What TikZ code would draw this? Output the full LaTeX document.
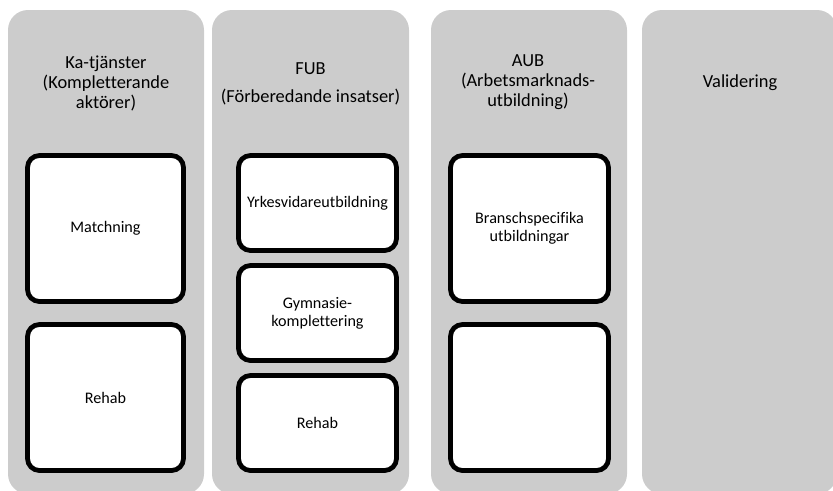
\documentclass[tikz,border=0pt]{standalone}
\usepackage{fontspec}
\setmainfont[Ligatures=NoCommon]{Carlito}
\definecolor{colgray}{HTML}{CCCCCC}
\tikzset{
  colbg/.style={fill=colgray, draw=none, rounded corners=15pt},
  innerbox/.style={fill=white, draw=black, line width=3.6pt, rounded corners=9pt},
  title/.style={align=center, font=\fontsize{13.8}{15}\selectfont, inner sep=0pt},
  label/.style={align=center, font=\fontsize{12.1}{13.5}\selectfont, inner sep=0pt}
}
\begin{document}
\begin{tikzpicture}[x=0.75pt, y=-0.75pt]
\useasboundingbox (0,0) rectangle (833,490);
\clip (0,0) rectangle (833,490);
% columns
\path[colbg] (8,10) rectangle (204,494);
\path[colbg] (212,10) rectangle (409,494);
\path[colbg] (431,10) rectangle (627,494);
\path[colbg] (642,10) rectangle (837,494);
% titles
\node[title] (t1) at (106,83) {Ka-tjänster\\(Kompletterande\\aktörer)};
\node[title] (t2) at (310.5,84) {FUB\\[6pt](Förberedande insatser)};
\node[title] (t3) at (528,82) {AUB\\(Arbetsmarknads-\\utbildning)};
\node[title] (t4) at (740,83) {Validering};
% column 1 boxes
\draw[innerbox] (27.5,155.5) rectangle (183.5,301.5);
\node[label] (m1) at (105.5,228.5) {Matchning};
\draw[innerbox] (27.5,324.5) rectangle (183.5,470.5);
\node[label] (r1) at (105.5,397.5) {Rehab};
% column 2 boxes
\draw[innerbox] (238.5,155.5) rectangle (396.5,250.5);
\node[label] (y2) at (317.5,203) {Yrkesvidareutbildning};
\draw[innerbox] (238.5,265.5) rectangle (396.5,360.5);
\node[label] (g2) at (317.5,313) {Gymnasie-\\komplettering};
\draw[innerbox] (238.5,375.5) rectangle (396.5,470.5);
\node[label] (r2) at (317.5,423) {Rehab};
% column 3 boxes
\draw[innerbox] (450.5,155.5) rectangle (608.5,301.5);
\node[label] (b3) at (529.5,228.5) {Branschspecifika\\utbildningar};
\draw[innerbox] (450.5,324.5) rectangle (608.5,470.5);
\end{tikzpicture}
\end{document}
